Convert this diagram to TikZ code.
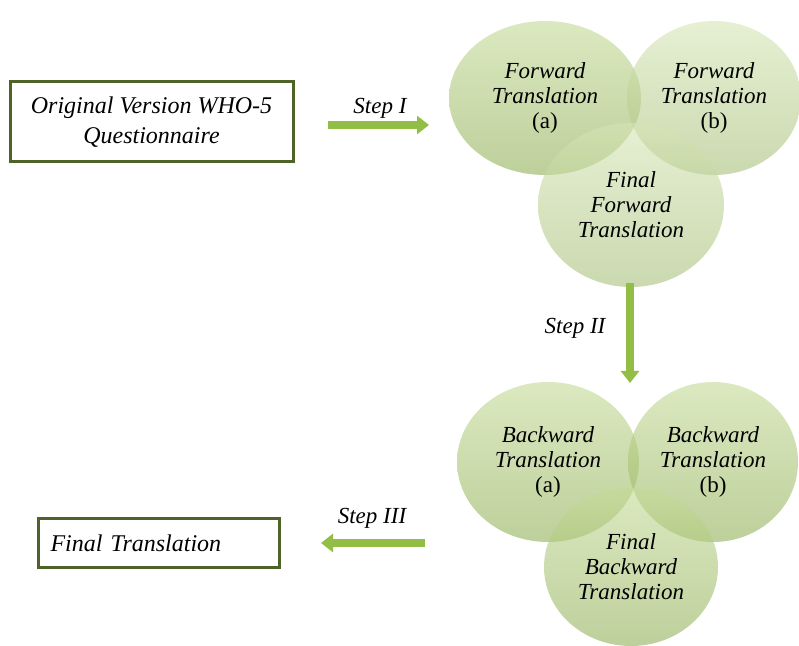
\documentclass[tikz,border=0pt]{standalone}
\usepackage{fontspec}
\setmainfont{Liberation Serif}
\usepackage{tikz}
\usetikzlibrary{shapes.geometric,arrows.meta}

\definecolor{boxline}{RGB}{79,98,40}
\definecolor{arrowgreen}{RGB}{146,190,70}
\definecolor{leaftop}{RGB}{196,218,150}
\definecolor{leafbot}{RGB}{145,176,88}

\tikzset{
  frame/.style={draw=boxline,line width=1.5pt,fill=white,inner sep=0pt},
  bubble/.style={ellipse,inner sep=0pt,top color=leaftop,bottom color=leafbot,
    fill opacity=0.6,text opacity=1,align=center,
    font=\fontsize{11.5}{12.5}\selectfont},
  pale/.style={top color=leaftop!70!white,bottom color=leafbot!80!white},
  steparrow/.style={arrowgreen,line width=4pt,-{Triangle[width=9pt,length=6pt]}},
  steplabel/.style={font=\fontsize{11.5}{13}\selectfont\itshape}
}

\begin{document}
\begin{tikzpicture}[x=0.5pt,y=-0.5pt]
\useasboundingbox (0,0) rectangle (799,646);
% Boxes
\node[frame,minimum width=141.5pt,minimum height=40pt,align=center,
  font=\fontsize{12}{15}\selectfont\itshape] (orig) at (151.5,122)
  {Original Version WHO-5\\Questionnaire};
\node[frame,minimum width=120.5pt,minimum height=24.5pt,
  font=\fontsize{12}{15}\selectfont\itshape,text width=108pt,align=left] (final) at (158.5,543.5)
  {Final Translation};
% Forward translations
\node[bubble,minimum width=96pt,minimum height=77pt] (fa) at (545,98)
  {\textit{Forward}\\\textit{Translation}\\(a)};
\node[bubble,pale,minimum width=87pt,minimum height=77pt] (fb) at (714,98)
  {\textit{Forward}\\\textit{Translation}\\(b)};
\node[bubble,pale,minimum width=93pt,minimum height=82pt] (ff) at (631,205)
  {\textit{Final}\\\textit{Forward}\\\textit{Translation}};
% Backward translations
\node[bubble,minimum width=91pt,minimum height=80pt] (ba) at (548,462)
  {\textit{Backward}\\\textit{Translation}\\(a)};
\node[bubble,minimum width=85pt,minimum height=80pt] (bb) at (713,462)
  {\textit{Backward}\\\textit{Translation}\\(b)};
\node[bubble,minimum width=87pt,minimum height=79pt] (bf) at (631,567)
  {\textit{Final}\\\textit{Backward}\\\textit{Translation}};
% Step arrows
\coordinate (s1a) at (328,125);
\coordinate (s1b) at (429,125);
\coordinate (s2a) at (630,283);
\coordinate (s2b) at (630,383);
\coordinate (s3a) at (425,543);
\coordinate (s3b) at (321,543);
\draw[steparrow] (s1a) -- (s1b);
\draw[steparrow] (s2a) -- (s2b);
\draw[steparrow] (s3a) -- (s3b);
\node[steplabel] (l1) at (380,108) {Step I};
\node[steplabel] (l2) at (575,328) {Step II};
\node[steplabel] (l3) at (372,518) {Step III};
\end{tikzpicture}
\end{document}
